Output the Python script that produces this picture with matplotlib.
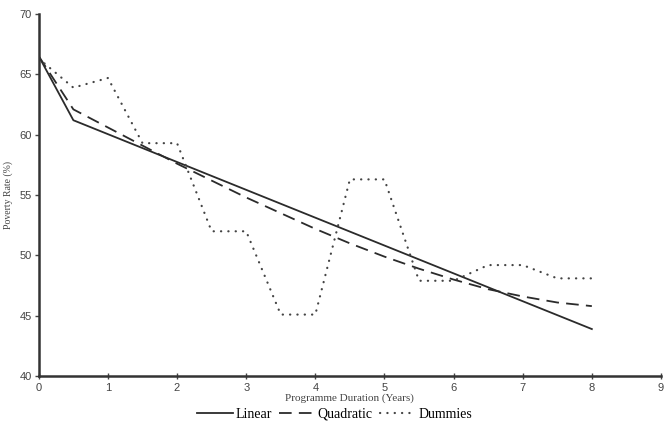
import matplotlib.pyplot as plt

# programme duration in years (half-year steps)
years = [0, 0.5, 1, 1.5, 2, 2.5, 3, 3.5, 4, 4.5, 5, 5.5, 6, 6.5, 7, 7.5, 8]

linear_x = [0, 0.5, 8]
linear_y = [66.5, 61.2, 43.9]

quadratic_y = [66.5, 62.1, 60.6, 59.1, 57.6, 56.2, 54.8, 53.5, 52.2,
               51.0, 49.9, 48.9, 48.0, 47.2, 46.6, 46.1, 45.8]

dummies_y = [66.3, 63.9, 64.7, 59.3, 59.3, 52.0, 52.0, 45.1, 45.1,
             56.3, 56.3, 47.9, 47.9, 49.2, 49.2, 48.1, 48.1]

line_col = '#2b2b2b'

fig = plt.figure(figsize=(6.69, 4.25), dpi=100)
ax = fig.add_axes([0.058, 0.115, 0.930, 0.852])

ax.plot(linear_x, linear_y, color=line_col, lw=1.3, label='Linear')
ax.plot(years, quadratic_y, color=line_col, lw=1.3, dashes=(7, 4), label='Quadratic')
ax.plot(years, dummies_y, color='#444444', lw=1.6, dashes=(0.1, 3.2),
        dash_capstyle='round', label='Dummies')

ax.set_xlim(0, 9)
ax.set_ylim(40, 70)
ax.set_xticks(range(0, 10))
ax.set_yticks(range(40, 71, 5))

for s in ['top', 'right']:
    ax.spines[s].set_visible(False)
for s in ['left', 'bottom']:
    ax.spines[s].set_linewidth(1.8)
    ax.spines[s].set_color('#333333')

ax.tick_params(axis='y', direction='out', length=3, width=1, labelsize=8,
               colors='#444444', pad=2)
ax.tick_params(axis='x', direction='inout', length=4, width=1, labelsize=8,
               colors='#444444', pad=3)
for lab in ax.get_xticklabels() + ax.get_yticklabels():
    lab.set_family('Liberation Sans')

ax.set_xlabel('Programme Duration (Years)', family='Liberation Serif',
              fontsize=8, color='#444444', labelpad=0)
ax.set_ylabel('Poverty Rate (%)', family='Liberation Serif',
              fontsize=7, color='#444444', labelpad=5)

fig.legend(loc='center', bbox_to_anchor=(0.5, 0.025), ncol=3, frameon=False,
           prop={'family': 'Liberation Serif', 'size': 10},
           handlelength=2.6, handletextpad=0.2, columnspacing=0.5)

fig.savefig('out.png', dpi=100)
